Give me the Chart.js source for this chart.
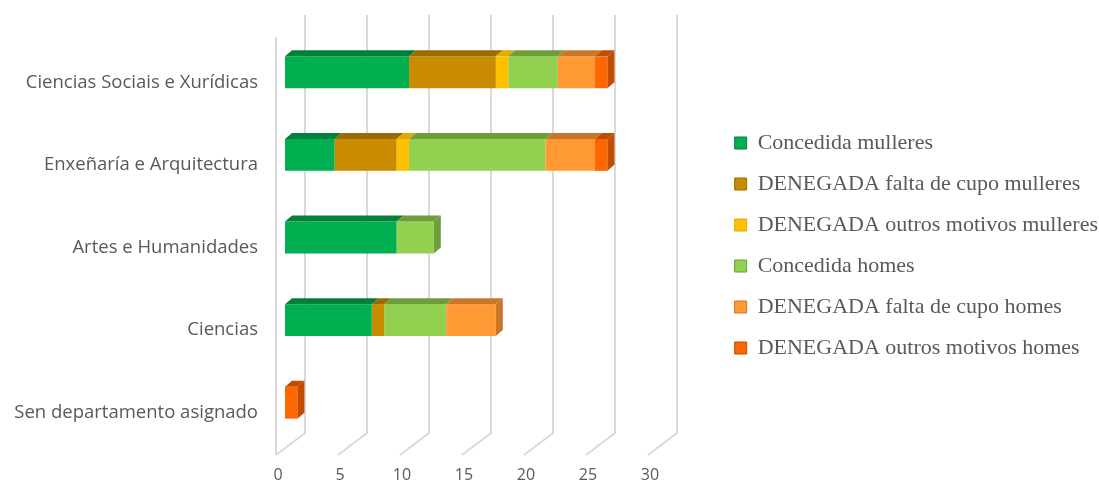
<!DOCTYPE html>
<html>
<head>
<meta charset="utf-8">
<script src="https://cdn.jsdelivr.net/npm/chart.js@4.4.1/dist/chart.umd.min.js"></script>
<style>
    html, body { margin: 0; padding: 0; background: #fff; }
    #wrap { width: 1099px; height: 486px; }
</style>
</head>
<body>
<div id="wrap"><canvas id="chart" width="1099" height="486"></canvas></div>
<script>
    // Chart data
    var categories = ['Ciencias Sociais e Xurídicas', 'Enxeñaría e Arquitectura', 'Artes e Humanidades', 'Ciencias', 'Sen departamento asignado'];
    var seriesNames = ['Concedida mulleres', 'DENEGADA falta de cupo mulleres', 'DENEGADA outros motivos mulleres', 'Concedida homes', 'DENEGADA falta de cupo homes', 'DENEGADA outros motivos homes'];
    var concedidaMulleres = [10, 4, 9, 7, 0];
    var faltaCupoMulleres = [7, 5, 0, 1, 0];
    var outrosMotivosMulleres = [1, 1, 0, 0, 0];
    var concedidaHomes = [4, 11, 3, 5, 0];
    var faltaCupoHomes = [3, 4, 0, 4, 0];
    var outrosMotivosHomes = [1, 1, 0, 0, 1];
    var xTicks = [0, 5, 10, 15, 20, 25, 30];

    // Colours: front face, and darker top / side face
    var frontColors = ['#00B050', '#C98B00', '#FFC000', '#92D050', '#FF9933', '#FF6600'];
    var sideColors = ['#00803A', '#9A6B00', '#E0AA00', '#6E9E3C', '#C97628', '#C04D00'];

    var PLOT_LEFT = 285;
    var PLOT_RIGHT = 657;
    var PAD_RIGHT = -9;
    var DX = 7, DY = 6;

    // Fake 3D: walls, floor lines, top faces and end caps
    var depthPlugin = {
        id: 'depth3d',
        beforeDatasetsDraw: function (chart) {
            var ctx = chart.ctx, area = chart.chartArea, xs = chart.scales.x;
            var zero = xs.getPixelForValue(0);
            ctx.save();
            ctx.strokeStyle = '#d9d9d9';
            ctx.lineWidth = 2;
            ctx.beginPath();
            ctx.moveTo(zero - 9, area.top + 6);
            ctx.lineTo(zero - 9, area.bottom + 11);
            ctx.stroke();
            xs.ticks.forEach(function (t) {
                var px = xs.getPixelForValue(t.value);
                ctx.beginPath();
                ctx.moveTo(px + 20, area.top - 16);
                ctx.lineTo(px + 20, area.bottom - 11);
                ctx.lineTo(px - 9, area.bottom + 11);
                ctx.stroke();
            });
            ctx.restore();
        },
        afterDatasetsDraw: function (chart) {
            var ctx = chart.ctx;
            var ends = {};
            ctx.save();
            chart.data.datasets.forEach(function (ds, di) {
                var meta = chart.getDatasetMeta(di);
                meta.data.forEach(function (bar, i) {
                    var p = bar.getProps(['x', 'y', 'base', 'height'], true);
                    var left = Math.min(p.base, p.x), right = Math.max(p.base, p.x);
                    if (right - left < 0.5) return;
                    var top = p.y - p.height / 2;
                    ctx.fillStyle = sideColors[di];
                    ctx.beginPath();
                    ctx.moveTo(left, top);
                    ctx.lineTo(right, top);
                    ctx.lineTo(right + DX, top - DY);
                    ctx.lineTo(left + DX, top - DY);
                    ctx.closePath();
                    ctx.fill();
                    if (!ends[i] || right >= ends[i].right) {
                        ends[i] = { right: right, top: top, bottom: top + p.height, color: sideColors[di] };
                    }
                });
            });
            Object.keys(ends).forEach(function (k) {
                var e = ends[k];
                ctx.fillStyle = e.color;
                ctx.beginPath();
                ctx.moveTo(e.right, e.top);
                ctx.lineTo(e.right + DX, e.top - DY);
                ctx.lineTo(e.right + DX, e.bottom - DY);
                ctx.lineTo(e.right, e.bottom);
                ctx.closePath();
                ctx.fill();
            });
            ctx.restore();
        }
    };

    var seriesValues = [concedidaMulleres, faltaCupoMulleres, outrosMotivosMulleres, concedidaHomes, faltaCupoHomes, outrosMotivosHomes];
    var datasets = seriesValues.map(function (values, i) {
        return {
            label: seriesNames[i],
            data: values,
            backgroundColor: frontColors[i],
            borderWidth: 0,
            xAxisID: 'x',
            yAxisID: 'y',
            categoryPercentage: 1,
            barPercentage: 0.386
        };
    });

    Chart.defaults.color = '#595959';
    Chart.defaults.font.family = '"Open Sans", sans-serif';

    new Chart(document.getElementById('chart').getContext('2d'), {
        type: 'bar',
        data: { labels: categories, datasets: datasets },
        options: {
            indexAxis: 'y',
            responsive: false,
            animation: false,
            layout: { padding: { top: 5, bottom: 0, left: 0, right: PAD_RIGHT } },
            scales: {
                x: {
                    stacked: true,
                    min: 0,
                    max: 30,
                    afterBuildTicks: function (scale) {
                        scale.ticks = xTicks.map(function (v) { return { value: v }; });
                    },
                    grid: { display: false, drawTicks: false },
                    border: { display: false },
                    ticks: { padding: 22, labelOffset: -7, font: { size: 16 } },
                    afterFit: function (scale) { scale.height = 42; }
                },
                xTop: {
                    type: 'linear',
                    position: 'top',
                    grid: { display: false, drawTicks: false },
                    border: { display: false },
                    ticks: { display: false },
                    afterFit: function (scale) { scale.height = 26; }
                },
                y: {
                    stacked: true,
                    grid: { display: false, drawTicks: false },
                    border: { display: false },
                    ticks: { padding: 27, labelOffset: 10, font: { size: 18.5 } },
                    afterFit: function (scale) {
                        scale.width = PLOT_LEFT;
                        scale.paddingTop = 0;
                        scale.paddingBottom = 0;
                    }
                },
                yRight: {
                    type: 'category',
                    position: 'right',
                    grid: { display: false, drawTicks: false },
                    border: { display: false },
                    ticks: { display: false },
                    afterFit: function (scale) {
                        var c = scale.chart;
                        var lw = c.legend ? c.legend.width : 0;
                        scale.width = Math.max(0, c.width - PAD_RIGHT - lw - PLOT_RIGHT);
                    }
                }
            },
            plugins: {
                legend: {
                    position: 'right',
                    maxWidth: 440,
                    labels: {
                        boxWidth: 12,
                        boxHeight: 12,
                        padding: 19,
                        color: '#595959',
                        font: { family: '"Liberation Serif", serif', size: 22 },
                        generateLabels: function (chart) {
                            var items = Chart.defaults.plugins.legend.labels.generateLabels(chart);
                            items.forEach(function (it) {
                                it.strokeStyle = sideColors[it.datasetIndex];
                                it.lineWidth = 1;
                            });
                            return items;
                        }
                    }
                },
                tooltip: { enabled: false }
            }
        },
        plugins: [depthPlugin]
    });
</script>
</body>
</html>
